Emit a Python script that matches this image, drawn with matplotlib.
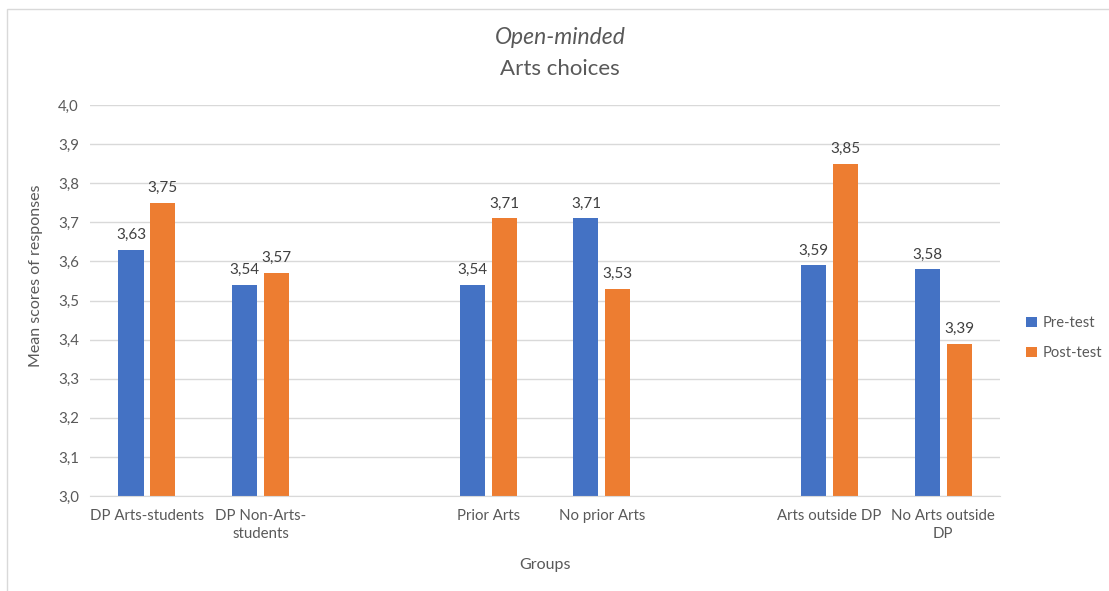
import matplotlib.pyplot as plt
import numpy as np
from matplotlib.patches import Rectangle
from matplotlib.ticker import FuncFormatter

plt.rcParams['font.family'] = ['Lato', 'DejaVu Sans']

# category slots (empty strings are the gaps between groups)
groups = ["DP Arts-students", "DP Non-Arts-\nstudents", "",
          "Prior Arts", "No prior Arts", "",
          "Arts outside DP", "No Arts outside\nDP"]
pre_test = [3.63, 3.54, np.nan, 3.54, 3.71, np.nan, 3.59, 3.58]
post_test = [3.75, 3.57, np.nan, 3.71, 3.53, np.nan, 3.85, 3.39]

BLUE = "#4472C4"
ORANGE = "#ED7D31"
GREY = "#595959"

fig = plt.figure(figsize=(11.09, 5.91), dpi=100)
ax = fig.add_axes([0.0812, 0.1607, 0.8205, 0.6616])

# light frame round the chart area
fig.patches.append(Rectangle((7 / 1109, -0.01), 1.0, 1.0 - 9 / 591 + 0.01,
                             transform=fig.transFigure, fill=False,
                             edgecolor="#D9D9D9", linewidth=1))

x = np.arange(len(groups))
width = 0.22
offset = 0.14

b1 = ax.bar(x - offset, pre_test, width, color=BLUE, label="Pre-test", zorder=3)
b2 = ax.bar(x + offset, post_test, width, color=ORANGE, label="Post-test", zorder=3)

def comma(v, pos=None):
    return ("%.1f" % v).replace(".", ",")

for bars, vals in ((b1, pre_test), (b2, post_test)):
    for bar, v in zip(bars, vals):
        if np.isnan(v):
            continue
        ax.text(bar.get_x() + bar.get_width() / 2, v + 0.02,
                ("%.2f" % v).replace(".", ","), ha="center", va="bottom",
                fontsize=11, color="#404040")

ax.set_ylim(3.0, 4.0)
ax.set_xlim(-0.5, len(groups) - 0.5)
ax.set_yticks(np.arange(3.0, 4.01, 0.1))
ax.yaxis.set_major_formatter(FuncFormatter(comma))
ax.set_xticks(x)
ax.set_xticklabels(groups, fontsize=10.8, color=GREY, linespacing=1.45)
ax.tick_params(axis="y", labelsize=10.8, labelcolor=GREY, length=0, pad=8)
ax.tick_params(axis="x", length=0, pad=9)

ax.grid(axis="y", color="#D9D9D9", linewidth=1, zorder=0)
for s in ("top", "right", "left"):
    ax.spines[s].set_visible(False)
ax.spines["bottom"].set_color("#D9D9D9")
ax.spines["bottom"].set_zorder(4)

ax.set_ylabel("Mean scores of responses", fontsize=11.5, color=GREY)
ax.yaxis.set_label_coords(-0.052, 0.563)
ax.set_xlabel("Groups", fontsize=11.5, color=GREY, labelpad=12)

fig.text(560 / 1109, 1 - 38 / 591, "Open-minded", ha="center", va="center",
         fontsize=16.5, style="italic", color=GREY)
fig.text(560 / 1109, 1 - 69 / 591, "Arts choices", ha="center", va="center",
         fontsize=16, color=GREY)

fig.legend(handles=[b1, b2], loc="center left", bbox_to_anchor=(0.9135, 0.428),
           frameon=False, fontsize=10.6, labelcolor=GREY, handlelength=0.7,
           handleheight=0.7, handletextpad=0.4, labelspacing=1.1)

fig.savefig("out.png", dpi=100)
